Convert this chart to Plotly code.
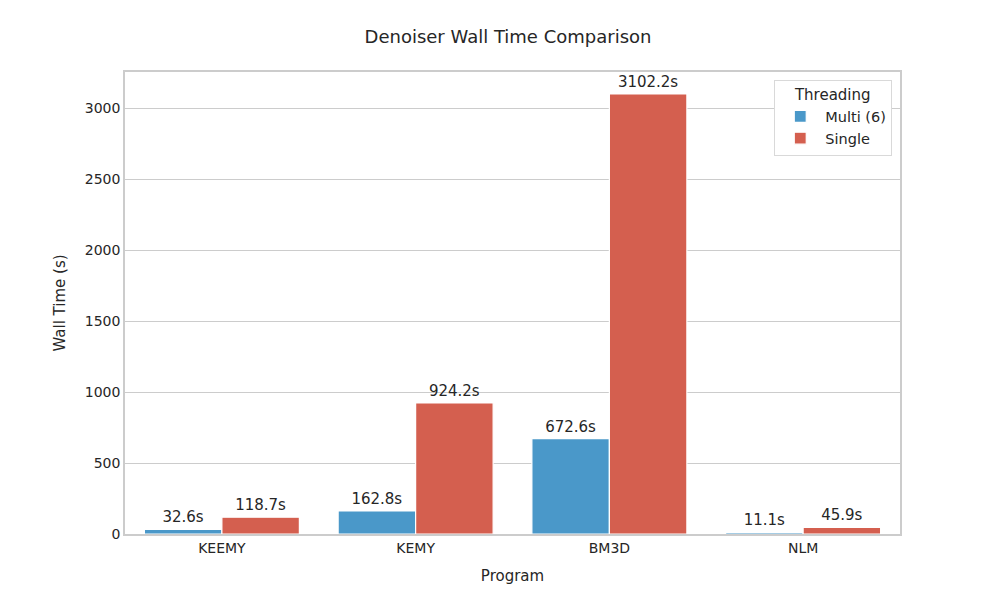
import plotly.graph_objects as go

PROGRAMS = ["KEEMY", "KEMY", "BM3D", "NLM"]
MULTI = [32.6, 162.8, 672.6, 11.1]
SINGLE = [118.7, 924.2, 3102.2, 45.9]
COLORS = {"Multi (6)": "#4a98c9", "Single": "#d45f4f"}
FONT = "DejaVu Sans"

fig = go.Figure()
for name, vals in (("Multi (6)", MULTI), ("Single", SINGLE)):
    fig.add_trace(go.Bar(
        x=PROGRAMS, y=vals, name=name,
        marker=dict(color=COLORS[name], line=dict(color="white", width=1.2)),
        text=[f"{v:.1f}s" for v in vals], textposition="outside",
        textfont=dict(size=15, color="#262626", family=FONT),
        cliponaxis=False,
    ))

fig.update_layout(
    width=1000, height=600,
    barmode="group", bargap=0.2, bargroupgap=0,
    paper_bgcolor="white", plot_bgcolor="white",
    font=dict(family=FONT, color="#262626", size=13),
    title=dict(text="Denoiser Wall Time Comparison", x=0.5, xanchor="center",
               y=0.952, yanchor="middle", font=dict(size=18, color="#262626")),
    margin=dict(l=117, r=108, t=64, b=74),
    legend=dict(
        title=dict(text="Threading", side="top center", font=dict(size=15)),
        x=0.99, xanchor="right", y=0.983, yanchor="top",
        bgcolor="white", bordercolor="#d9d9d9", borderwidth=1,
        font=dict(size=14.5), itemwidth=40,
    ),
    showlegend=True,
)
fig.update_xaxes(
    title=dict(text="Program", font=dict(size=15), standoff=16),
    range=[-0.5, 3.5], showline=True, mirror=True, linecolor="#cccccc", linewidth=1.5,
    showgrid=False, ticks="", tickfont=dict(size=14),
)
fig.update_yaxes(
    title=dict(text="Wall Time (s)", font=dict(size=15), standoff=16),
    range=[0, 3257], tickvals=[0, 500, 1000, 1500, 2000, 2500, 3000],
    showline=True, mirror=True, linecolor="#cccccc", linewidth=1.5,
    showgrid=True, gridcolor="#cccccc", gridwidth=1, zeroline=False,
    ticks="", tickfont=dict(size=14),
)

fig.write_html("out.html")
